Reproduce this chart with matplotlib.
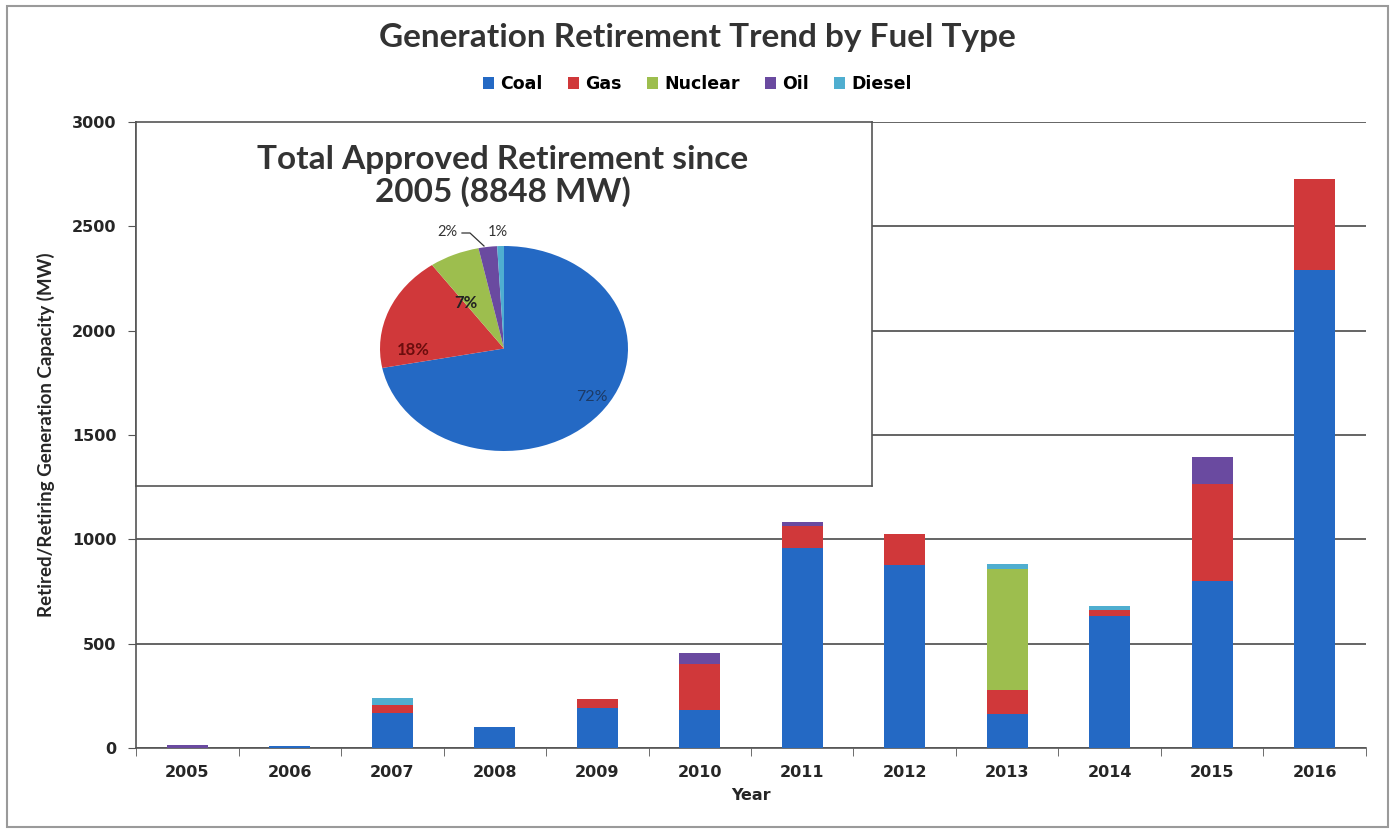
import numpy as np
import matplotlib
matplotlib.use("Agg")
import matplotlib.pyplot as plt
from matplotlib.patches import Patch, Rectangle

years = ['2005', '2006', '2007', '2008', '2009', '2010', '2011', '2012', '2013', '2014', '2015', '2016']
coal = [0, 8, 167, 100, 192, 181, 960, 876, 161, 633, 798, 2290]
gas = [0, 0, 37, 0, 43, 223, 105, 152, 119, 27, 468, 435]
nuclear = [0, 0, 0, 0, 0, 0, 0, 0, 580, 0, 0, 0]
oil = [15, 0, 0, 0, 0, 52, 19, 0, 0, 0, 128, 0]
diesel = [0, 0, 37, 0, 0, 0, 0, 0, 20, 21, 0, 0]

fuels = ['Coal', 'Gas', 'Nuclear', 'Oil', 'Diesel']
colors = ['#2469C4', '#D0383A', '#9DBE4E', '#6A4AA0', '#4FAED0']
series = [coal, gas, nuclear, oil, diesel]

title = 'Generation Retirement Trend by Fuel Type'
pie_title = 'Total Approved Retirement since\n2005 (8848 MW)'

tick_font = 'DejaVu Sans'
head_font = 'Lato'

fig = plt.figure(figsize=(13.95, 8.34), dpi=100)

# outer frame
fig.patches.append(Rectangle((0.005, 0.008), 0.99, 0.985, transform=fig.transFigure,
                             fill=False, edgecolor='#9a9a9a', linewidth=1.5))

ax = fig.add_axes([0.0975, 0.1031, 0.8817, 0.7506])
x = np.arange(len(years))
bottom = np.zeros(len(years))
for name, vals, c in zip(fuels, series, colors):
    ax.bar(x, vals, width=0.4, bottom=bottom, color=c, label=name, zorder=3)
    bottom += np.array(vals)

ax.set_xlim(-0.5, len(years) - 0.5)
ax.set_ylim(0, 3000)
ax.set_yticks(np.arange(0, 3001, 500))
ax.yaxis.grid(True, color='#3a3a3a', linewidth=1.1, zorder=1)
ax.set_axisbelow(True)
ax.set_xticks(x)
ax.set_xticklabels(years)
ax.set_xticks(np.arange(-0.5, len(years), 1), minor=True)
ax.tick_params(axis='x', which='major', length=0, pad=12)
ax.tick_params(axis='x', which='minor', length=6, color='#555555', direction='out')
ax.tick_params(axis='y', length=6, color='#555555', pad=8)
for lab in ax.get_xticklabels() + ax.get_yticklabels():
    lab.set_fontfamily(tick_font)
    lab.set_fontweight('bold')
    lab.set_fontsize(11.5)
    lab.set_color('#262626')
for s in ['top', 'right']:
    ax.spines[s].set_visible(False)
for s in ['left', 'bottom']:
    ax.spines[s].set_color('#555555')
    ax.spines[s].set_linewidth(1.2)

ax.set_xlabel('Year', fontfamily=tick_font, fontweight='bold', fontsize=11.5, color='#262626', labelpad=6)
ax.set_ylabel('Retired/Retiring Generation Capacity (MW)', fontfamily=head_font, fontweight='bold',
              fontsize=13.5, color='#262626', labelpad=12)

fig.text(0.5, 1 - 38 / 834, title, ha='center', va='center', fontfamily=head_font,
         fontweight='bold', fontsize=24, color='#333333')

handles = [Patch(facecolor=c, edgecolor='none') for c in colors]
fig.legend(handles, fuels, loc='center', bbox_to_anchor=(0.5, 1 - 84 / 834), ncol=5, frameon=False,
           handlelength=0.65, handleheight=0.65, handletextpad=0.35, columnspacing=1.45,
           prop={'family': tick_font, 'weight': 'bold', 'size': 12.5})

# inset box with pie
box = fig.add_axes([0.0975, 0.4173, 0.5276, 0.4364], zorder=5)
box.set_xticks([])
box.set_yticks([])
box.set_facecolor('white')
for s in box.spines.values():
    s.set_color('#555555')
    s.set_linewidth(1.2)
fig.text(503 / 1395, 1 - 176 / 834, pie_title, ha='center', va='center', fontfamily=head_font,
         fontweight='bold', fontsize=24, color='#333333', zorder=10, linespacing=1.08)

totals = [sum(v) for v in series]
pax = fig.add_axes([380 / 1395, 1 - 451 / 834, 248 / 1395, 205 / 834], zorder=6)
pax.pie(totals, colors=colors, startangle=90, counterclock=False, radius=1,
        wedgeprops={'linewidth': 0})
pax.set_aspect('auto')
pax.set_xlim(-1, 1)
pax.set_ylim(-1, 1)
pax.axis('off')

pct = [100 * t / sum(totals) for t in totals]
labels = ['%.0f%%' % p for p in pct]
pos = [(592, 397), (413, 350), (466, 303), (447, 232), (498, 232)]
lab_colors = ['#1c3a66', '#6b0d0d', '#222222', '#333333', '#333333']
sizes = [11.5, 12, 12, 10.5, 10.5]
weights = ['normal', 'bold', 'bold', 'normal', 'normal']
for lab, (px, py), c, sz, w in zip(labels, pos, lab_colors, sizes, weights):
    fig.text(px / 1395, 1 - py / 834, lab, ha='center', va='center', fontfamily=head_font,
             fontsize=sz, color=c, fontweight=w, zorder=11)
# leader line for 2%
fig.lines.append(plt.Line2D([462 / 1395, 470 / 1395, 484 / 1395],
                            [1 - 233 / 834, 1 - 233 / 834, 1 - 246 / 834],
                            transform=fig.transFigure, color='#333333', linewidth=0.9, zorder=11))

fig.savefig('out.png', dpi=100)
